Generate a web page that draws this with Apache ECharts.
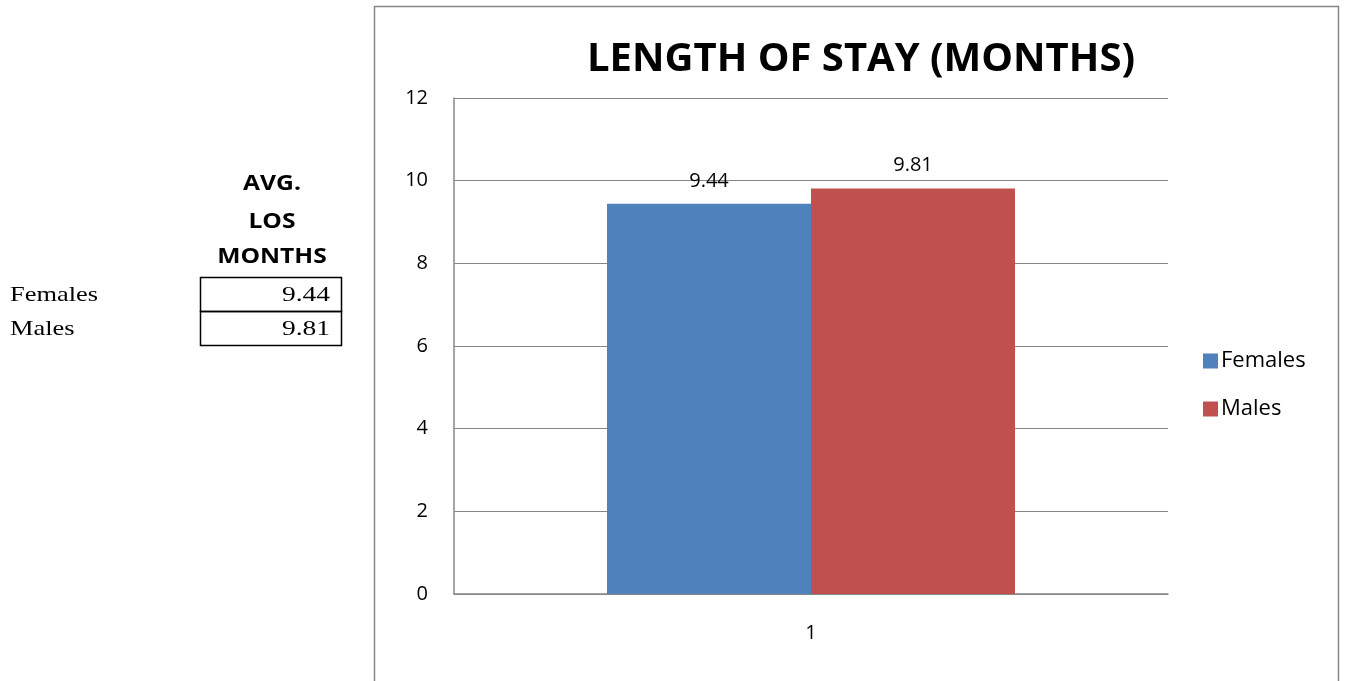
<!DOCTYPE html>
<html>
<head>
<meta charset="utf-8">
<script src="https://cdn.jsdelivr.net/npm/echarts@6/dist/echarts.min.js"></script>
<style>
html,body{margin:0;padding:0;background:#fff;}
#c{width:1348px;height:681px;}
</style>
</head>
<body>
<div id="c"></div>
<script>
const categories = ['1'];
const seriesNames = ['Females', 'Males'];
const femalesValues = [9.44];
const malesValues = [9.81];
const seriesColors = ['#4F81BD', '#C0504D'];
const tableHeader = ['AVG.', 'LOS', 'MONTHS'];
const tableRows = ['Females', 'Males'];
const tableValues = [9.44, 9.81];

const chart = echarts.init(document.getElementById('c'), null, {renderer: 'canvas'});

const sans = '"Open Sans", "Noto Sans", sans-serif';
const serif = '"Liberation Serif", "DejaVu Serif", serif';

const graphics = [
  {type: 'rect', shape: {x: 374.5, y: 6.5, width: 964, height: 700},
   style: {fill: 'none', stroke: '#878787', lineWidth: 1.5}, z: -1}
];
tableHeader.forEach((t, i) => {
  graphics.push({type: 'text', x: 272, y: [184, 222, 257][i], scaleX: 1.12,
    style: {text: t, font: 'bold 22px ' + sans, fill: '#000', align: 'center', verticalAlign: 'middle'}});
});
tableRows.forEach((r, i) => {
  const y0 = 277 + i * 34;
  graphics.push({type: 'rect', shape: {x: 200.5, y: y0 + 0.5, width: 141, height: 34},
    style: {fill: 'none', stroke: '#000', lineWidth: 1.5}});
  graphics.push({type: 'text', x: 10, y: y0 + 18, scaleX: 1.2,
    style: {text: r, font: '22px ' + serif, fill: '#000', align: 'left', verticalAlign: 'middle'}});
  graphics.push({type: 'text', x: 330, y: y0 + 18, scaleX: 1.25,
    style: {text: tableValues[i].toFixed(2), font: '22px ' + serif, fill: '#000', align: 'right', verticalAlign: 'middle'}});
});

const labelCfg = {show: true, position: 'top', distance: 13, fontSize: 20, color: '#000', fontFamily: sans,
  formatter: p => p.value.toFixed(2)};

chart.setOption({
  animation: false,
  title: {text: 'LENGTH OF STAY (MONTHS)', left: 856, top: 35, textAlign: 'center',
    textStyle: {fontSize: 40, fontWeight: 'bold', color: '#000', fontFamily: sans}},
  legend: {orient: 'vertical', left: 1198, top: 345, itemWidth: 15, itemHeight: 15, itemGap: 26,
    icon: 'rect', data: seriesNames,
    textStyle: {fontSize: 22, color: '#000', fontFamily: sans, padding: [0, 0, 0, -2]}},
  grid: {left: 454, right: 1348 - 1168, top: 98, bottom: 681 - 594, containLabel: false},
  xAxis: {type: 'category', data: categories,
    axisLine: {lineStyle: {color: '#878787', width: 1.5}},
    axisTick: {show: false},
    axisLabel: {fontSize: 20, color: '#000', margin: 29, fontFamily: sans}},
  yAxis: {type: 'value', min: 0, max: 12, interval: 2,
    axisLine: {show: true, lineStyle: {color: '#878787', width: 1.5}},
    axisTick: {show: false},
    splitLine: {lineStyle: {color: '#878787', width: 1.2}},
    axisLabel: {fontSize: 20, color: '#000', margin: 26, fontFamily: sans}},
  series: [
    {name: seriesNames[0], type: 'bar', data: femalesValues, itemStyle: {color: seriesColors[0]},
     barWidth: 204, barGap: '0%', label: labelCfg},
    {name: seriesNames[1], type: 'bar', data: malesValues, itemStyle: {color: seriesColors[1]},
     barWidth: 204, barGap: '0%', label: labelCfg}
  ],
  graphic: graphics
});
</script>
</body>
</html>
